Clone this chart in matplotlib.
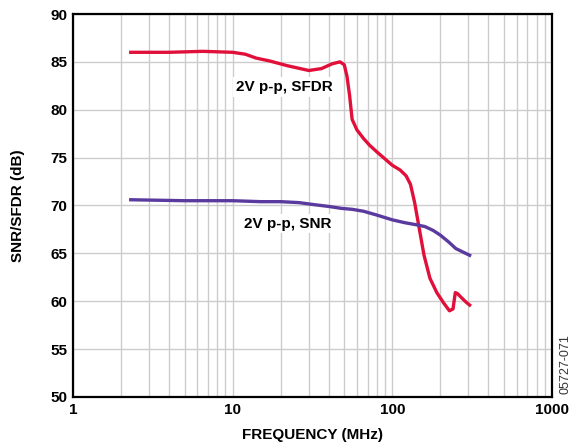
import matplotlib.pyplot as plt
from matplotlib.ticker import LogLocator, NullFormatter

plt.rcParams['font.family'] = ['Liberation Sans', 'DejaVu Sans']

# SFDR curve (MHz, dB)
sfdr_freq = [2.3, 4, 6.5, 10, 12, 14, 17, 22, 30, 36, 42, 47, 50, 52,
             54, 56, 60, 66, 72, 80, 88, 100, 112, 122, 130, 138, 146,
             158, 172, 190, 210, 228, 240, 248, 256, 270, 290, 305]
sfdr_db = [86.0, 86.0, 86.1, 86.0, 85.8, 85.4, 85.1, 84.6, 84.1, 84.3,
           84.8, 85.0, 84.7, 83.5, 81.5, 79.0, 77.9, 77.0, 76.3, 75.6,
           75.0, 74.2, 73.7, 73.1, 72.2, 70.3, 68.0, 64.8, 62.4, 60.9,
           59.8, 59.0, 59.2, 60.9, 60.8, 60.4, 59.9, 59.6]

# SNR curve (MHz, dB)
snr_freq = [2.3, 5, 10, 15, 20, 26, 32, 40, 48, 56, 66, 80, 100, 120,
            140, 160, 180, 200, 225, 250, 280, 305]
snr_db = [70.6, 70.5, 70.5, 70.4, 70.4, 70.3, 70.1, 69.9, 69.7, 69.6,
          69.4, 69.0, 68.5, 68.2, 68.0, 67.8, 67.4, 66.9, 66.2, 65.5,
          65.1, 64.8]

fig = plt.figure(figsize=(5.72, 4.46), dpi=100)
ax = fig.add_axes([0.1276, 0.1099, 0.8374, 0.8587])

ax.plot(sfdr_freq, sfdr_db, color='#e0103a', linewidth=2.4, zorder=3)
ax.plot(snr_freq, snr_db, color='#5a3a9e', linewidth=2.4, zorder=3)

ax.set_xscale('log')
ax.set_xlim(1, 1000)
ax.set_ylim(50, 90)
ax.set_yticks(range(50, 91, 5))
ax.set_xticks([1, 10, 100, 1000])
ax.set_xticklabels(['1', '10', '100', '1000'])
ax.xaxis.set_minor_locator(LogLocator(base=10, subs=range(2, 10)))
ax.xaxis.set_minor_formatter(NullFormatter())

ax.grid(True, which='both', color='#cccccc', linewidth=1.0, zorder=0)
ax.tick_params(which='both', length=0, labelsize=11, pad=4)
for lbl in ax.get_xticklabels() + ax.get_yticklabels():
    lbl.set_fontweight('bold')
for s in ax.spines.values():
    s.set_linewidth(1.6)

ax.set_xlabel('FREQUENCY (MHz)', fontsize=11, fontweight='bold', labelpad=8)
ax.set_ylabel('SNR/SFDR (dB)', fontsize=11, fontweight='bold', labelpad=18)

box = dict(facecolor='white', edgecolor='none', pad=2)
ax.text(21, 82.4, '2V p-p, SFDR', fontsize=11, fontweight='bold',
        ha='center', va='center', bbox=box, zorder=4)
ax.text(22, 68.1, '2V p-p, SNR', fontsize=11, fontweight='bold',
        ha='center', va='center', bbox=box, zorder=4)

fig.text(0.989, 0.184, '05727-071', rotation=90, fontsize=9,
         color='#333333', ha='center', va='center')

fig.savefig('out.png', dpi=100)
